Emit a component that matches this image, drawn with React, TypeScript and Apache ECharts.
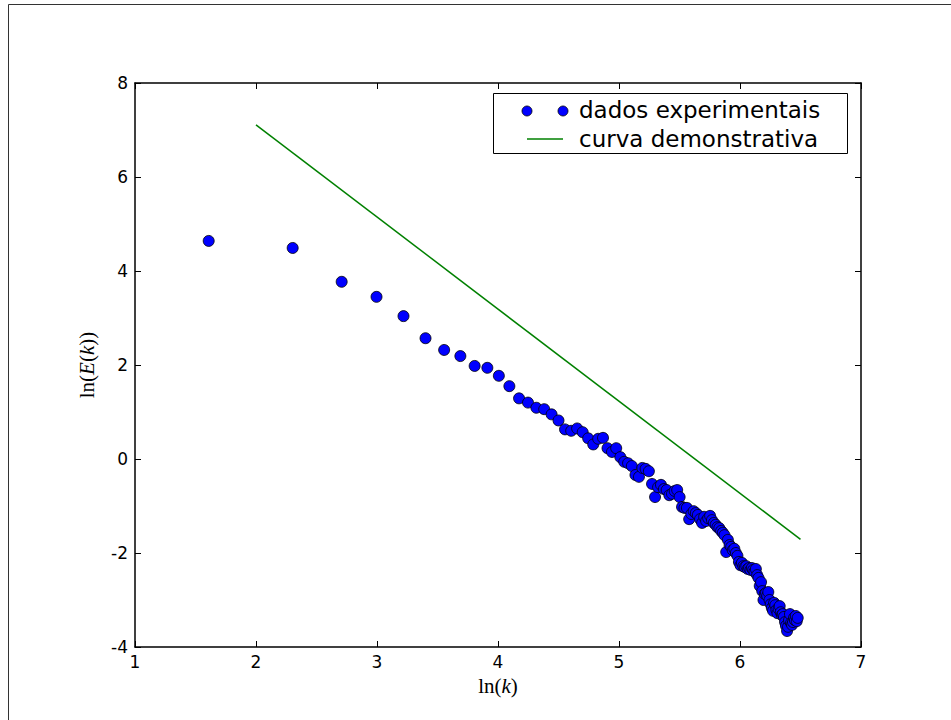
import React, { useEffect, useRef } from "react";
import * as echarts from "echarts";

// ln(k) for k = 5, 10, 15, ...
const lnK: number[] = [
  1.609, 2.303, 2.708, 2.996, 3.219, 3.401, 3.555, 3.689, 3.807, 3.912,
  4.007, 4.094, 4.174, 4.248, 4.317, 4.382, 4.443, 4.5, 4.554, 4.605,
  4.654, 4.7, 4.745, 4.787, 4.828, 4.868, 4.905, 4.942, 4.977, 5.011,
  5.043, 5.075, 5.106, 5.136, 5.165, 5.193, 5.22, 5.247, 5.273, 5.298,
  5.323, 5.347, 5.371, 5.394, 5.416, 5.438, 5.46, 5.481, 5.501, 5.521,
  5.541, 5.561, 5.58, 5.598, 5.617, 5.635, 5.652, 5.67, 5.687, 5.704,
  5.72, 5.737, 5.753, 5.768, 5.784, 5.799, 5.814, 5.829, 5.844, 5.858,
  5.872, 5.886, 5.9, 5.914, 5.927, 5.94, 5.953, 5.966, 5.979, 5.991,
  6.004, 6.016, 6.028, 6.04, 6.052, 6.064, 6.075, 6.087, 6.098, 6.109,
  6.12, 6.131, 6.142, 6.153, 6.163, 6.174, 6.184, 6.194, 6.205, 6.215,
  6.225, 6.234, 6.244, 6.254, 6.263, 6.273, 6.282, 6.292, 6.301, 6.31,
  6.319, 6.328, 6.337, 6.346, 6.354, 6.363, 6.372, 6.38, 6.389, 6.397,
  6.405, 6.413, 6.422, 6.43, 6.438, 6.446, 6.454, 6.461, 6.469, 6.477,
];

// ln(E(k)) experimental values
const lnE: number[] = [
  4.64, 4.49, 3.77, 3.45, 3.04, 2.57, 2.32, 2.19, 1.98, 1.94,
  1.77, 1.55, 1.29, 1.2, 1.09, 1.06, 0.95, 0.82, 0.63, 0.6,
  0.65, 0.57, 0.44, 0.31, 0.43, 0.45, 0.23, 0.15, 0.23, 0.04,
  -0.06, -0.09, -0.15, -0.34, -0.38, -0.19, -0.21, -0.26, -0.53, -0.81,
  -0.6, -0.55, -0.64, -0.66, -0.77, -0.74, -0.68, -0.66, -0.81, -1.02,
  -1.04, -1.04, -1.28, -1.17, -1.11, -1.15, -1.19, -1.28, -1.36, -1.23,
  -1.32, -1.26, -1.21, -1.3, -1.36, -1.4, -1.45, -1.47, -1.53, -1.57,
  -1.62, -1.98, -1.72, -1.83, -1.87, -1.94, -1.91, -2.0, -2.06, -2.19,
  -2.26, -2.21, -2.28, -2.3, -2.28, -2.34, -2.32, -2.36, -2.32, -2.36,
  -2.4, -2.34, -2.47, -2.53, -2.7, -2.62, -2.81, -3.0, -2.87, -2.85,
  -2.91, -2.83, -3.0, -3.09, -3.17, -3.23, -3.06, -3.11, -3.21, -3.28,
  -3.19, -3.13, -3.26, -3.32, -3.3, -3.36, -3.47, -3.55, -3.66, -3.57,
  -3.43, -3.3, -3.49, -3.53, -3.47, -3.38, -3.43, -3.34, -3.45, -3.38,
];

// demonstration curve end points
const curveX: number[] = [2.0, 6.5];
const curveY: number[] = [7.11, -1.71];

const xTicks = { min: 1, max: 7, interval: 1 };
const yTicks = { min: -4, max: 8, interval: 2 };

const legendLabels = ["dados experimentais", "curva demonstrativa"];

export default function App() {
  const ref = useRef<HTMLDivElement>(null);
  useEffect(() => {
    if (!ref.current) return;
    const chart = echarts.init(ref.current, undefined, { renderer: "svg" });
    const tickFont = { fontFamily: "DejaVu Sans", fontSize: 17, color: "#000" };
    const axisLine = { show: true, onZero: false, lineStyle: { color: "#000", width: 1.5 } };
    const axisTick = { show: true, inside: true, length: 6, lineStyle: { color: "#000", width: 1 } };
    const serif = "Liberation Serif";
    chart.setOption({
      animation: false,
      backgroundColor: "#fff",
      grid: { left: 135, right: 90, top: 83, bottom: 73, containLabel: false },
      xAxis: [
        {
          type: "value",
          ...xTicks,
          position: "bottom",
          axisLine,
          axisTick,
          splitLine: { show: false },
          axisLabel: { ...tickFont, margin: 6 },
          name: "{a|ln(}{b|k}{a|)}",
          nameLocation: "middle",
          nameGap: 28,
          nameTextStyle: {
            rich: {
              a: { fontFamily: serif, fontSize: 21, color: "#000" },
              b: { fontFamily: serif, fontSize: 21, fontStyle: "italic", color: "#000" },
            },
          },
        },
        {
          type: "value",
          ...xTicks,
          position: "top",
          axisLine,
          axisTick,
          splitLine: { show: false },
          axisLabel: { show: false },
        },
      ],
      yAxis: [
        {
          type: "value",
          ...yTicks,
          position: "left",
          axisLine,
          axisTick,
          splitLine: { show: false },
          axisLabel: { ...tickFont, margin: 7 },
          name: "{a|ln(}{b|E}{a|(}{b|k}{a|))}",
          nameLocation: "middle",
          nameGap: 38,
          nameRotate: 90,
          nameTextStyle: {
            rich: {
              a: { fontFamily: serif, fontSize: 21, color: "#000" },
              b: { fontFamily: serif, fontSize: 21, fontStyle: "italic", color: "#000" },
            },
          },
        },
        {
          type: "value",
          ...yTicks,
          position: "right",
          axisLine,
          axisTick,
          splitLine: { show: false },
          axisLabel: { show: false },
        },
      ],
      series: [
        {
          name: legendLabels[0],
          type: "scatter",
          data: lnK.map((x, i) => [x, lnE[i]]),
          symbol: "circle",
          symbolSize: 11,
          itemStyle: { color: "#0000ff", borderColor: "#000", borderWidth: 0.8, opacity: 1 },
          z: 3,
        },
        {
          name: legendLabels[1],
          type: "line",
          data: curveX.map((x, i) => [x, curveY[i]]),
          symbol: "none",
          lineStyle: { color: "#008000", width: 1.5 },
          z: 2,
        },
      ],
      graphic: [
        {
          type: "rect",
          shape: { x: 8.5, y: 4.5, width: 1200, height: 1200 },
          style: { fill: "none", stroke: "#333", lineWidth: 1 },
          z: -10,
          silent: true,
        },
        {
          type: "group",
          z: 100,
          children: [
            {
              type: "rect",
              shape: { x: 493.5, y: 93.5, width: 354, height: 60 },
              style: { fill: "#fff", stroke: "#000", lineWidth: 1 },
            },
            {
              type: "circle",
              shape: { cx: 527, cy: 111, r: 5 },
              style: { fill: "#0000ff", stroke: "#000", lineWidth: 0.8 },
            },
            {
              type: "circle",
              shape: { cx: 563, cy: 111, r: 5 },
              style: { fill: "#0000ff", stroke: "#000", lineWidth: 0.8 },
            },
            {
              type: "line",
              shape: { x1: 527, y1: 139, x2: 563, y2: 139 },
              style: { stroke: "#008000", lineWidth: 1.5 },
            },
            {
              type: "text",
              x: 579,
              y: 110,
              style: {
                text: legendLabels[0],
                fontFamily: "DejaVu Sans",
                fontSize: 23,
                fill: "#000",
                verticalAlign: "middle",
              },
            },
            {
              type: "text",
              x: 579,
              y: 139,
              style: {
                text: legendLabels[1],
                fontFamily: "DejaVu Sans",
                fontSize: 23,
                fill: "#000",
                verticalAlign: "middle",
              },
            },
          ],
        },
      ],
    });
    return () => chart.dispose();
  }, []);
  return (
    <div
      ref={ref}
      style={{ position: "fixed", left: 0, top: 0, width: 951, height: 720, background: "#fff" }}
    />
  );
}
